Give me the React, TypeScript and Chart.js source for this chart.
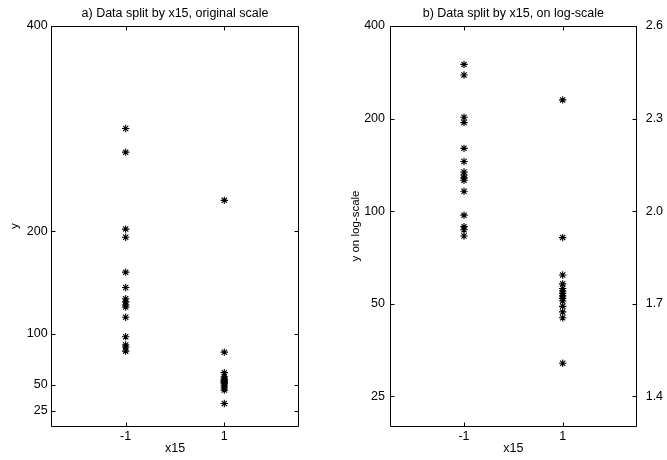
import React, { useEffect, useRef } from 'react';
import { Chart, registerables } from 'chart.js';

Chart.register(...registerables);

const FONT_FAMILY = "'Liberation Sans', Arial, Helvetica, sans-serif";
Chart.defaults.font.family = FONT_FAMILY;
Chart.defaults.color = '#000';

// ---- data ----
const categories = [-1, 1];
const xTickValues = [-1, 1];
const yTickValues = [25, 50, 100, 200, 400];
const groupMinus = [300, 277, 202, 194, 160, 145, 134, 131, 128, 126, 116, 97, 89, 87, 83];
const groupPlus = [230, 82, 62, 58, 56, 55, 54, 53, 52, 51, 49, 47, 45, 32];
const panelTitles = ['a) Data split by x15, original scale', 'b) Data split by x15, on log-scale'];
const xLabel = 'x15';
const yLabelLeft = 'y';
const yLabelRight = 'y on log-scale';
const y2Label = 'log10(y)';

const TICK_FONT = { size: 12.5, family: FONT_FAMILY };
const YTITLE_FONT = { size: 11.5, family: FONT_FAMILY };

const matlabFrame = {
  id: 'matlabFrame',
  afterDraw(chart: any, _args: any, opts: any) {
    const { ctx, chartArea, scales } = chart;
    const L = Math.floor(chartArea.left) + 0.5;
    const R = Math.floor(chartArea.right) + 0.5;
    const T = Math.floor(chartArea.top) + 0.5;
    const B = Math.floor(chartArea.bottom) + 0.5;
    const len = 4;
    ctx.save();
    ctx.strokeStyle = '#000';
    ctx.lineWidth = 1;
    ctx.beginPath();
    ctx.rect(L, T, R - L, B - T);
    const sx = scales.x;
    sx.ticks.forEach((t: any) => {
      const p = Math.round(sx.getPixelForValue(t.value)) + 0.5;
      ctx.moveTo(p, B); ctx.lineTo(p, B - len);
      ctx.moveTo(p, T); ctx.lineTo(p, T + len);
    });
    const sy = scales.y;
    const sy2 = scales.y2;
    sy.ticks.forEach((t: any) => {
      const p = Math.round(sy.getPixelForValue(t.value)) + 0.5;
      ctx.moveTo(L, p); ctx.lineTo(L + len, p);
      if (!sy2) { ctx.moveTo(R, p); ctx.lineTo(R - len, p); }
    });
    if (sy2) {
      sy2.ticks.forEach((t: any) => {
        const p = Math.round(sy2.getPixelForValue(t.value)) + 0.5;
        ctx.moveTo(R, p); ctx.lineTo(R - len, p);
      });
    }
    ctx.stroke();
    ctx.fillStyle = '#000';
    ctx.font = `12.5px ${FONT_FAMILY}`;
    ctx.textAlign = 'center';
    ctx.textBaseline = 'middle';
    ctx.fillText(opts.title, (chartArea.left + chartArea.right) / 2, opts.titleY);
    if (opts.rightLabel) {
      ctx.translate(opts.rightLabelX, (chartArea.top + chartArea.bottom) / 2);
      ctx.rotate(-Math.PI / 2);
      ctx.font = `11.5px ${FONT_FAMILY}`;
      ctx.fillText(opts.rightLabel, 0, 0);
    }
    ctx.restore();
  },
};

function makeDatasets() {
  const style = {
    pointStyle: 'star',
    pointRadius: 3.7,
    pointBorderWidth: 1.1,
    borderColor: '#000',
    backgroundColor: '#000',
    showLine: false,
  };
  return [
    { data: groupMinus.map((y) => ({ x: categories[0], y })), ...style },
    { data: groupPlus.map((y) => ({ x: categories[1], y })), ...style },
  ];
}

function xScale() {
  return {
    type: 'linear',
    min: -2.5,
    max: 2.5,
    afterBuildTicks: (s: any) => { s.ticks = xTickValues.map((v) => ({ value: v })); },
    ticks: { padding: 3, font: TICK_FONT, color: '#000', autoSkip: false, maxRotation: 0, callback: (v: any) => String(v) },
    grid: { display: false, drawTicks: false },
    border: { display: false },
    title: { display: true, text: xLabel, font: TICK_FONT, color: '#000', padding: { top: 0, bottom: 4 } },
    afterFit: (s: any) => { s.height = 34; },
  };
}

function leftConfig(): any {
  return {
    type: 'scatter',
    data: { datasets: makeDatasets() },
    options: {
      animation: false,
      responsive: false,
      devicePixelRatio: 1,
      layout: { padding: { top: 26, left: 0, right: 333 - 298.3, bottom: 0 } },
      plugins: {
        legend: { display: false },
        tooltip: { enabled: false },
        matlabFrame: { title: panelTitles[0], titleY: 13.5 },
      },
      scales: {
        x: xScale(),
        y: {
          type: 'linear',
          min: 10,
          max: 400,
          afterBuildTicks: (s: any) => { s.ticks = yTickValues.map((v) => ({ value: v })); },
          ticks: { padding: 4, font: TICK_FONT, color: '#000', autoSkip: false, callback: (v: any) => String(v) },
          grid: { display: false, drawTicks: false },
          border: { display: false },
          title: { display: true, text: yLabelLeft, font: YTITLE_FONT, color: '#000', padding: { top: 8, bottom: 0 } },
          afterFit: (s: any) => { s.width = 51.7; },
        },
      },
    },
    plugins: [matlabFrame],
  };
}

function rightConfig(): any {
  const lo = Math.log10(20);
  const hi = Math.log10(400);
  return {
    type: 'scatter',
    data: { datasets: makeDatasets() },
    options: {
      animation: false,
      responsive: false,
      devicePixelRatio: 1,
      layout: { padding: { top: 26, left: 0, right: 0, bottom: 0 } },
      plugins: {
        legend: { display: false },
        tooltip: { enabled: false },
        matlabFrame: { title: panelTitles[1], titleY: 13.5, rightLabel: y2Label, rightLabelX: 338.5 },
      },
      scales: {
        x: xScale(),
        y: {
          type: 'logarithmic',
          position: 'left',
          min: 20,
          max: 400,
          afterBuildTicks: (s: any) => { s.ticks = yTickValues.map((v) => ({ value: v })); },
          ticks: { padding: 5, font: TICK_FONT, color: '#000', autoSkip: false, callback: (v: any) => String(v) },
          grid: { display: false, drawTicks: false },
          border: { display: false },
          title: { display: true, text: yLabelRight, font: YTITLE_FONT, color: '#000', padding: { top: 16, bottom: 0 } },
          afterFit: (s: any) => { s.width = 57; },
        },
        y2: {
          type: 'linear',
          position: 'right',
          min: lo,
          max: hi,
          afterBuildTicks: (s: any) => { s.ticks = yTickValues.map((v) => ({ value: Math.log10(v) })); },
          ticks: { padding: 9, font: TICK_FONT, color: '#000', autoSkip: false, callback: (v: any) => Number(v).toFixed(1) },
          grid: { display: false, drawTicks: false },
          border: { display: false },
          afterFit: (s: any) => { s.width = 345 - 303.7; },
        },
      },
    },
    plugins: [matlabFrame],
  };
}

export default function App() {
  const leftRef = useRef<HTMLCanvasElement | null>(null);
  const rightRef = useRef<HTMLCanvasElement | null>(null);

  useEffect(() => {
    if (!leftRef.current || !rightRef.current) return;
    const a = new Chart(leftRef.current, leftConfig());
    const b = new Chart(rightRef.current, rightConfig());
    return () => { a.destroy(); b.destroy(); };
  }, []);

  return (
    <div style={{ position: 'fixed', left: 0, top: 0, width: 667, height: 460, overflow: 'hidden', background: '#fff' }}>
      <canvas ref={leftRef} width={333} height={460} style={{ position: 'absolute', left: 0, top: 0, display: 'block' }} />
      <canvas ref={rightRef} width={345} height={460} style={{ position: 'absolute', left: 333, top: 0, display: 'block' }} />
    </div>
  );
}
